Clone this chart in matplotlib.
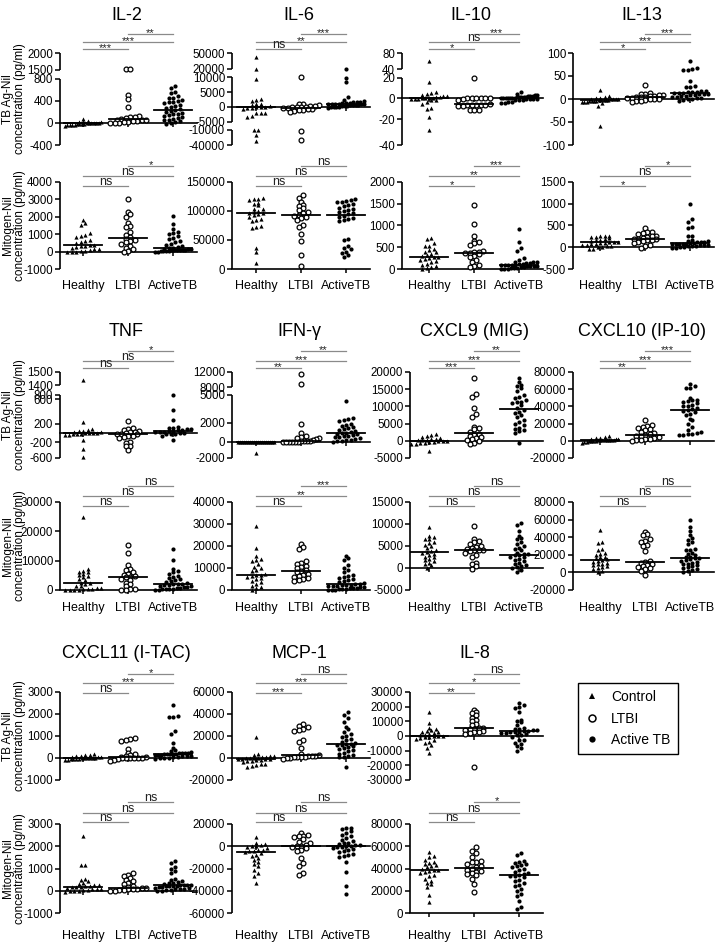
import numpy as np
import matplotlib
matplotlib.use("Agg")
from matplotlib import pyplot as plt
from matplotlib.lines import Line2D

plt.rcParams['font.family'] = ['Liberation Sans', 'DejaVu Sans']

groups = ["Healthy", "LTBI", "ActiveTB"]
legend_labels = ["Control", "LTBI", "Active TB"]

# ---------------- row 1 : TB Ag-Nil ----------------
il2_tb_h = [80, 40, 20, 15, 10, 5, 0, 0, -5, -10, -10, -15, -20, -20, -25, -30, -35, -40, -45, -50]
il2_tb_l = [1520, 1520, 500, 430, 280, 120, 110, 100, 90, 70, 60, 50, 50, 40, 30, 20, 10, 5, 0, -10]
il2_tb_a = [660, 640, 560, 540, 480, 450, 445, 415, 400, 385, 370, 360, 330, 310, 290, 270, 250,
            230, 215, 200, 185, 165, 155, 145, 125, 105, 95, 80, 60, 45, 30, 20, 0, -20]
il2_tb_ticks = [-400, 0, 400, 800, 1500, 2000]
il2_tb_breaks = [(-400, 0), (800, 0.72), (1500, 0.82), (2000, 1)]
il2_tb_segs = [(-400, 800), (1500, 2000)]
il2_tb_sig = ["***", "***", "**"]

il6_tb_h = [42000, 20000, 9400, 2700, 2300, 2000, 1000, 800, 600, 300, 100, 0, -100, -300, -500,
            -700, -2200, -2200, -2200, -3000, -3300, -10000, -10000, -20000, -33000]
il6_tb_l = [10500, 1000, 800, 500, 300, 200, 100, 0, -100, -200, -300, -400, -600, -800, -1000,
            -1200, -1500, -1700, -12000, -31000]
il6_tb_a = [20000, 9700, 8300, 3500, 2400, 2000, 1800, 1600, 1500, 1400, 1300, 1200, 1100, 1000,
            950, 900, 850, 800, 750, 700, 600, 500, 400, 300, 200, 100, 0, -100, -200, -300]
il6_tb_ticks = [-40000, -10000, -5000, 0, 5000, 10000, 20000, 50000]
il6_tb_breaks = [(-40000, 0), (-10000, 0.164), (-5000, 0.255), (10000, 0.735), (20000, 0.829), (50000, 1)]
il6_tb_segs = [(-40000, -10000), (-5000, 10000), (20000, 50000)]
il6_tb_sig = ["ns", "**", "***"]

il10_tb_h = [60, 16, 6, 5, 4, 3, 2, 2, 1, 1, 0, 0, 0, 0, -1, -1, -1, -2, -2, -3, -5, -9, -10, -18, -28]
il10_tb_l = [20, 0, 0, 0, 0, 0, 0, -1, -2, -5, -6, -6, -6, -6, -6, -7, -7, -11, -11, -11]
il10_tb_a = [6, 4, 3, 3, 2, 2, 2, 1, 1, 1, 1, 1, 0, 0, 0, 0, 0, 0, 0, -1, -1, -1, -1, -2, -2, -2,
             -3, -3, -4, -4]
il10_tb_ticks = [-40, -20, 0, 20, 40, 80]
il10_tb_breaks = [(-40, 0), (-20, 0.278), (0, 0.507), (20, 0.733), (40, 0.826), (80, 1)]
il10_tb_segs = [(-40, 20), (40, 80)]
il10_tb_sig = ["*", "ns", "***"]

il13_tb_h = [20, 6, 5, 3, 2, 1, 0, 0, -1, -1, -2, -2, -3, -3, -3, -4, -4, -5, -5, -6, -6, -7, -8, -15, -58]
il13_tb_l = [31, 12, 11, 10, 9, 8, 7, 6, 5, 4, 4, 3, 2, 1, 0, -1, -3, -5, -5, -6]
il13_tb_a = [83, 67, 65, 64, 62, 40, 28, 27, 26, 18, 17, 16, 15, 15, 14, 13, 12, 11, 10, 10, 9, 8,
             7, 6, 5, 4, 3, 2, 1, 0, -2, -4]
il13_tb_ticks = [-100, -50, 0, 50, 100]
il13_tb_sig = ["*", "***", "***"]

# ---------------- row 1 : Mitogen-Nil ----------------
il2_mit_h = [1800, 1650, 1500, 1050, 950, 900, 850, 650, 600, 550, 470, 400, 380, 350, 320, 250,
             200, 150, 130, 80, 50, 20, 0, -30, -50]
il2_mit_l = [3050, 2250, 2150, 2000, 1650, 1450, 1400, 1100, 950, 850, 700, 650, 600, 550, 450,
             300, 200, 150, 50, -20]
il2_mit_a = [2050, 1600, 1300, 1100, 1050, 1000, 900, 800, 700, 600, 550, 450, 400, 300, 250, 200,
             180, 160, 140, 130, 120, 110, 100, 90, 80, 70, 60, 50, 30, 10, -20, -50]
il2_mit_ticks = [-1000, 0, 1000, 2000, 3000, 4000]
il2_mit_sig = ["ns", "ns", "*"]

il6_mit_h = [122000, 121000, 120000, 119000, 113000, 112000, 110000, 104000, 103000, 100000, 98000,
             97000, 96000, 95000, 93000, 90000, 87000, 84000, 82000, 74000, 73000, 71000, 36000,
             29000, 11000]
il6_mit_l = [128000, 122000, 115000, 110000, 108000, 105000, 101000, 98000, 96000, 93000, 92000,
             90000, 88000, 85000, 75000, 73000, 60000, 48000, 24000, 6000]
il6_mit_a = [120000, 119000, 118000, 116000, 115000, 112000, 110000, 108000, 106000, 104000,
             102000, 100000, 98000, 96000, 94000, 92000, 90000, 88000, 86000, 84000, 82000, 52000,
             50000, 40000, 36000, 34000, 30000, 28000, 24000, 21000]
il6_mit_ticks = [0, 50000, 100000, 150000]
il6_mit_sig = ["ns", "ns", "ns"]

il10_mit_h = [720, 690, 600, 540, 520, 470, 430, 400, 380, 350, 320, 300, 280, 270, 250, 240, 200,
              180, 150, 110, 100, 60, 50, 20, 10]
il10_mit_l = [1480, 1030, 770, 650, 620, 600, 560, 420, 400, 380, 370, 370, 340, 310, 280, 200,
              170, 100, 70, 50]
il10_mit_a = [920, 610, 490, 420, 250, 200, 170, 160, 150, 140, 130, 120, 110, 100, 100, 95, 90,
              85, 80, 70, 60, 60, 50, 40, 30, 30, 20, 10, 5, 0]
il10_mit_ticks = [0, 500, 1000, 1500, 2000]
il10_mit_sig = ["*", "**", "***"]

il13_mit_h = [270, 260, 250, 240, 230, 210, 200, 170, 160, 140, 130, 120, 110, 100, 90, 80, 70,
              60, 50, 40, 30, 10, 0, -30, -40]
il13_mit_l = [440, 360, 340, 320, 300, 270, 250, 230, 210, 200, 190, 180, 170, 160, 140, 120, 100,
              60, 20, -20]
il13_mit_a = [1000, 640, 580, 460, 440, 270, 250, 170, 150, 140, 130, 120, 110, 100, 90, 85, 80,
              75, 70, 65, 60, 55, 50, 40, 30, 20, 10, 0, -10, -20]
il13_mit_ticks = [-500, 0, 500, 1000, 1500]
il13_mit_sig = ["*", "ns", "*"]

# ---------------- row 2 : TB Ag-Nil ----------------
tnf_tb_h = [1440, 230, 90, 60, 50, 40, 30, 20, 10, 5, 0, -5, -10, -20, -30, -40, -50, -150, -370, -580]
tnf_tb_l = [245, 110, 90, 60, 50, 30, 20, 0, -10, -20, -30, -60, -70, -90, -100, -200, -210,
            -285, -300, -395]
tnf_tb_a = [790, 420, 270, 140, 120, 100, 90, 80, 70, 60, 50, 40, 30, 25, 20, 10, 0, -10, -20,
            -30, -60, -150]
tnf_tb_ticks = [-600, -200, 200, 600, 800, 1400, 1500]
tnf_tb_breaks = [(-600, 0), (-200, 0.183), (200, 0.397), (600, 0.681), (800, 0.735), (1400, 0.844), (1500, 1)]
tnf_tb_segs = [(-600, 800), (1400, 1500)]
tnf_tb_sig = ["ns", "ns", "*"]

ifn_tb_h = [30, 20, 10, 5, 0, 0, 0, 0, 0, 0, 0, 0, 0, 0, 0, -10, -20, 0, 0, -1400]
ifn_tb_l = [11400, 8900, 1900, 950, 600, 450, 400, 350, 250, 150, 80, 60, 50, 40, 30, 20, 10, 0, 0, 0]
ifn_tb_a = [4300, 2550, 2400, 2300, 2200, 1800, 1700, 1650, 1500, 1450, 1300, 1250, 1100, 1000,
            950, 900, 850, 800, 700, 650, 600, 500, 450, 350, 300, 200, 150, 100, 50, 20]
ifn_tb_ticks = [-2000, 0, 2000, 5000, 8000, 12000]
ifn_tb_breaks = [(-2000, 0), (0, 0.188), (2000, 0.412), (5000, 0.733), (8000, 0.824), (12000, 1)]
ifn_tb_segs = [(-2000, 5000), (8000, 12000)]
ifn_tb_sig = ["**", "***", "**"]

cxcl9_tb_h = [2000, 1800, 1500, 1200, 800, 500, 400, 300, 200, 100, 0, -100, -200, -300, -400,
              -500, -600, -800, -1000, -3000]
cxcl9_tb_l = [18400, 13500, 12700, 9500, 7800, 6900, 4000, 3700, 3300, 2700, 2000, 1600, 1400,
              1100, 800, 600, 200, 0, -500, -900]
cxcl9_tb_a = [18300, 17000, 16200, 15800, 15400, 14500, 13200, 12800, 12400, 11800, 11400, 11200,
              10900, 10300, 9600, 9000, 8500, 8000, 7500, 6800, 6000, 5500, 5000, 4500, 3800,
              3500, 3000, 2800, 2200, -500]
cxcl9_tb_ticks = [-5000, 0, 5000, 10000, 15000, 20000]
cxcl9_tb_sig = ["***", "***", "**"]

cxcl10_tb_h = [5500, 4000, 3500, 3000, 2500, 2000, 1800, 1500, 1500, 1200, 1000, 900, 800, 600,
               400, 200, 0, -200, -500, -1000, -1500, -2000]
cxcl10_tb_l = [24000, 18500, 17000, 16000, 15000, 13500, 12000, 10000, 9000, 7500, 6500, 6000,
               5000, 4000, 3500, 2500, 2000, 1000, 500, 0]
cxcl10_tb_a = [66000, 64000, 61000, 61000, 50000, 48000, 47000, 46000, 45000, 44000, 42000, 41000,
               40000, 38000, 37000, 36000, 35000, 33000, 31000, 30000, 25000, 24000, 20000, 16000,
               12000, 10000, 9000, 8000, 7500, 7000, 6500]
cxcl10_tb_ticks = [-20000, 0, 20000, 40000, 60000, 80000]
cxcl10_tb_sig = ["**", "***", "***"]

# ---------------- row 2 : Mitogen-Nil ----------------
tnf_mit_h = [25000, 7000, 6500, 6300, 6000, 5500, 5000, 4800, 4500, 3800, 3500, 2500, 2300, 2000,
             1500, 1200, 800, 600, 400, 300, 200, 100, 50, 0, 0]
tnf_mit_l = [15500, 12500, 8500, 7000, 6800, 6000, 5500, 5000, 4800, 4600, 4500, 3800, 3500, 2500,
             2200, 1200, 500, 200, 100, 0]
tnf_mit_a = [14000, 10300, 7000, 6500, 6000, 5500, 4800, 4500, 4000, 3800, 3500, 3000, 2700, 2500,
             2200, 2000, 1900, 1800, 1600, 1400, 1200, 1000, 900, 800, 600, 500, 400, 300, 200,
             100, 50]
tnf_mit_ticks = [0, 10000, 20000, 30000]
tnf_mit_sig = ["ns", "ns", "ns"]

ifn_mit_h = [29000, 19000, 15500, 14000, 13500, 13000, 12000, 10500, 10000, 9000, 8500, 7500, 7000,
             6800, 6500, 6000, 5500, 5000, 4000, 3500, 2800, 2000, 1500, 800, 0]
ifn_mit_l = [21000, 19500, 18500, 13000, 12500, 12000, 11000, 10500, 10000, 9000, 8500, 8000, 7500,
             7000, 6500, 6000, 5500, 5000, 4500, 4300]
ifn_mit_a = [15500, 14500, 13500, 11500, 10000, 9000, 8000, 7000, 6500, 6000, 5500, 5000, 4500,
             4000, 3500, 3000, 2800, 2600, 2500, 2400, 2300, 2000, 1800, 1600, 1500, 1200, 1000,
             900, 800, 600, 400, 300, 200, 100, 0]
ifn_mit_ticks = [0, 10000, 20000, 30000, 40000]
ifn_mit_sig = ["ns", "**", "***"]

cxcl9_mit_h = [9300, 7300, 7000, 6700, 6500, 6000, 5700, 5300, 5000, 4500, 4000, 3800, 3600, 3400,
               3200, 3000, 2600, 2400, 2000, 1800, 1500, 1200, 1000, 700, 0]
cxcl9_mit_l = [9600, 6700, 6200, 5800, 5500, 5000, 4800, 4500, 4300, 4200, 4100, 4000, 3800, 3500,
               3000, 2500, 1200, 800, 400, -200]
cxcl9_mit_a = [10200, 9800, 8300, 7300, 6800, 6500, 5900, 5500, 5000, 4600, 4300, 4000, 3500, 3200,
               3100, 3000, 2900, 2600, 2400, 2000, 1800, 1500, 1200, 900, 700, 400, 200, 0, -400, -800]
cxcl9_mit_ticks = [-5000, 0, 5000, 10000, 15000]
cxcl9_mit_sig = ["ns", "ns", "ns"]

cxcl10_mit_h = [48000, 35000, 33000, 27000, 25000, 22000, 21000, 20000, 18000, 17000, 16000, 15000,
                14500, 13500, 12000, 11000, 10000, 9000, 8000, 7000, 6500, 5000, 4000, 2000, 0]
cxcl10_mit_l = [46000, 44000, 42000, 38000, 36000, 35000, 31000, 30000, 24000, 13000, 11500, 11000,
                9000, 8000, 7000, 6000, 5000, 4000, 2000, -3000]
cxcl10_mit_a = [60000, 52000, 47000, 42000, 39000, 37000, 34000, 32000, 27000, 26000, 25000, 22000,
                21000, 20000, 18000, 17000, 16500, 16000, 15000, 14000, 13000, 12000, 11000, 10000,
                9000, 8000, 7000, 6000, 5000, 4000, 3000, 2000, 500]
cxcl10_mit_ticks = [-20000, 0, 20000, 40000, 60000, 80000]
cxcl10_mit_sig = ["ns", "ns", "ns"]

# ---------------- row 3 : TB Ag-Nil ----------------
cxcl11_tb_h = [180, 150, 120, 100, 80, 60, 40, 30, 20, 10, 0, 0, -10, -20, -30, -40, -50, -60, -80, -100]
cxcl11_tb_l = [920, 850, 800, 780, 420, 250, 200, 150, 100, 60, 30, 20, 10, 0, 0, -10, -20, -50,
               -80, -120]
cxcl11_tb_a = [2400, 1900, 1880, 1850, 1250, 1100, 680, 460, 350, 300, 260, 250, 230, 220, 210,
               200, 190, 180, 170, 160, 150, 140, 120, 100, 90, 80, 60, 40, 20, 0, -20, -50]
cxcl11_tb_ticks = [-1000, 0, 1000, 2000, 3000]
cxcl11_tb_sig = ["ns", "***", "*"]

mcp1_tb_h = [19000, 3500, 2500, 2000, 1500, 1000, 500, 300, 200, 0, -300, -600, -800, -1000, -1200,
             -1500, -2000, -2500, -3000, -4000, -5000, -5500, -6000, -7000, -8000]
mcp1_tb_l = [31000, 29000, 28000, 26000, 25500, 25000, 16000, 15000, 9500, 4000, 2500, 2000, 1800,
             1500, 1200, 1000, 800, 500, 200, 0, -500]
mcp1_tb_a = [42000, 39000, 36000, 33000, 28000, 26000, 24000, 22000, 20000, 19000, 17000, 16000,
             15000, 14000, 13000, 12500, 12000, 11500, 11000, 10000, 9000, 8000, 7000, 6000, 5000,
             4000, 3000, 2000, 1000, 500, -8500]
mcp1_tb_ticks = [-20000, 0, 20000, 40000, 60000]
mcp1_tb_sig = ["***", "***", "ns"]

il8_tb_h = [16700, 8700, 5500, 4500, 4000, 3500, 3000, 2500, 2000, 1500, 1000, 500, 200, 0, -200,
            -500, -1000, -1500, -2000, -3000, -4000, -5000, -6000, -8000, -11500]
il8_tb_l = [18000, 16500, 15500, 14000, 12500, 11000, 10000, 8500, 7500, 5500, 5300, 5000, 4500,
            4000, 3500, 3000, 2500, 2000, 1500, -21000]
il8_tb_a = [22500, 21000, 20000, 19000, 16500, 11000, 10000, 9500, 7500, 5500, 5000, 4500, 4000,
            3800, 3500, 3300, 3000, 2800, 2500, 2200, 2000, 1500, 1000, 500, -500, -2500, -3000,
            -4500, -5500, -7000, -8000, -10000]
il8_tb_ticks = [-30000, -20000, -10000, 0, 10000, 20000, 30000]
il8_tb_sig = ["**", "*", "ns"]

# ---------------- row 3 : Mitogen-Nil ----------------
cxcl11_mit_h = [2450, 1170, 1150, 550, 480, 420, 350, 300, 260, 240, 220, 200, 180, 160, 150, 120,
                100, 80, 60, 40, 30, 10, 0, -30, -50]
cxcl11_mit_l = [780, 720, 650, 560, 480, 420, 370, 300, 200, 150, 140, 130, 120, 100, 80, 60, 40,
                30, 10, -20]
cxcl11_mit_a = [1350, 1250, 1050, 1000, 900, 820, 520, 480, 450, 400, 360, 330, 300, 280, 260, 250,
                240, 230, 220, 210, 200, 180, 160, 140, 120, 100, 80, 60, 40, 20, 0, -20]
cxcl11_mit_ticks = [-1000, 0, 1000, 2000, 3000]
cxcl11_mit_sig = ["ns", "ns", "ns"]

mcp1_mit_h = [8000, 3000, 2000, 1500, 500, 0, -1000, -2000, -3000, -3500, -4000, -4500, -5000,
              -6000, -7500, -9000, -10500, -12500, -14000, -16000, -18000, -21000, -24000, -27000, -33000]
mcp1_mit_l = [12000, 10500, 9500, 9000, 8500, 6500, 3500, 2500, 1500, 500, 0, -500, -1500, -3000,
              -4500, -10500, -15000, -18000, -24000, -26000]
mcp1_mit_a = [16500, 16000, 15500, 13500, 12000, 10500, 9000, 7500, 6000, 4500, 3000, 2500, 2000,
              1500, 1000, 500, -200, -500, -1000, -1500, -2500, -3000, -4500, -5500, -7000, -8000,
              -9000, -10000, -14000, -23500, -36000, -43000]
mcp1_mit_ticks = [-60000, -40000, -20000, 0, 20000]
mcp1_mit_sig = ["ns", "ns", "ns"]

il8_mit_h = [54500, 51000, 50000, 48000, 46000, 45000, 44000, 43000, 42000, 41000, 40000, 39000,
             38500, 38000, 37000, 36000, 34000, 33000, 31000, 29000, 27000, 26000, 23000, 16000, 10000]
il8_mit_l = [59000, 56000, 53500, 50500, 47000, 46000, 45500, 44000, 42000, 41000, 40000, 39000,
             38000, 37000, 36000, 35000, 34000, 31000, 26000, 19000]
il8_mit_a = [53500, 52000, 47000, 46000, 45000, 44000, 43500, 42000, 41000, 40000, 38500, 37000,
             36000, 35000, 34000, 33500, 33000, 32000, 30000, 29000, 27000, 25000, 24000, 22000,
             20000, 17000, 15000, 11000, 5000, 4000]
il8_mit_ticks = [0, 20000, 40000, 60000, 80000]
il8_mit_sig = ["ns", "ns", "*"]

# title, row, col, kind, healthy, ltbi, active, ticks, breaks, spine segments, significance
panels = [
    ("IL-2", 0, 0, "tb", il2_tb_h, il2_tb_l, il2_tb_a, il2_tb_ticks, il2_tb_breaks, il2_tb_segs, il2_tb_sig),
    ("IL-6", 0, 1, "tb", il6_tb_h, il6_tb_l, il6_tb_a, il6_tb_ticks, il6_tb_breaks, il6_tb_segs, il6_tb_sig),
    ("IL-10", 0, 2, "tb", il10_tb_h, il10_tb_l, il10_tb_a, il10_tb_ticks, il10_tb_breaks, il10_tb_segs, il10_tb_sig),
    ("IL-13", 0, 3, "tb", il13_tb_h, il13_tb_l, il13_tb_a, il13_tb_ticks, None, None, il13_tb_sig),
    (None, 0, 0, "mit", il2_mit_h, il2_mit_l, il2_mit_a, il2_mit_ticks, None, None, il2_mit_sig),
    (None, 0, 1, "mit", il6_mit_h, il6_mit_l, il6_mit_a, il6_mit_ticks, None, None, il6_mit_sig),
    (None, 0, 2, "mit", il10_mit_h, il10_mit_l, il10_mit_a, il10_mit_ticks, None, None, il10_mit_sig),
    (None, 0, 3, "mit", il13_mit_h, il13_mit_l, il13_mit_a, il13_mit_ticks, None, None, il13_mit_sig),
    ("TNF", 1, 0, "tb", tnf_tb_h, tnf_tb_l, tnf_tb_a, tnf_tb_ticks, tnf_tb_breaks, tnf_tb_segs, tnf_tb_sig),
    ("IFN-γ", 1, 1, "tb", ifn_tb_h, ifn_tb_l, ifn_tb_a, ifn_tb_ticks, ifn_tb_breaks, ifn_tb_segs, ifn_tb_sig),
    ("CXCL9 (MIG)", 1, 2, "tb", cxcl9_tb_h, cxcl9_tb_l, cxcl9_tb_a, cxcl9_tb_ticks, None, None, cxcl9_tb_sig),
    ("CXCL10 (IP-10)", 1, 3, "tb", cxcl10_tb_h, cxcl10_tb_l, cxcl10_tb_a, cxcl10_tb_ticks, None, None, cxcl10_tb_sig),
    (None, 1, 0, "mit", tnf_mit_h, tnf_mit_l, tnf_mit_a, tnf_mit_ticks, None, None, tnf_mit_sig),
    (None, 1, 1, "mit", ifn_mit_h, ifn_mit_l, ifn_mit_a, ifn_mit_ticks, None, None, ifn_mit_sig),
    (None, 1, 2, "mit", cxcl9_mit_h, cxcl9_mit_l, cxcl9_mit_a, cxcl9_mit_ticks, None, None, cxcl9_mit_sig),
    (None, 1, 3, "mit", cxcl10_mit_h, cxcl10_mit_l, cxcl10_mit_a, cxcl10_mit_ticks, None, None, cxcl10_mit_sig),
    ("CXCL11 (I-TAC)", 2, 0, "tb", cxcl11_tb_h, cxcl11_tb_l, cxcl11_tb_a, cxcl11_tb_ticks, None, None, cxcl11_tb_sig),
    ("MCP-1", 2, 1, "tb", mcp1_tb_h, mcp1_tb_l, mcp1_tb_a, mcp1_tb_ticks, None, None, mcp1_tb_sig),
    ("IL-8", 2, 2, "tb", il8_tb_h, il8_tb_l, il8_tb_a, il8_tb_ticks, None, None, il8_tb_sig),
    (None, 2, 0, "mit", cxcl11_mit_h, cxcl11_mit_l, cxcl11_mit_a, cxcl11_mit_ticks, None, None, cxcl11_mit_sig),
    (None, 2, 1, "mit", mcp1_mit_h, mcp1_mit_l, mcp1_mit_a, mcp1_mit_ticks, None, None, mcp1_mit_sig),
    (None, 2, 2, "mit", il8_mit_h, il8_mit_l, il8_mit_a, il8_mit_ticks, None, None, il8_mit_sig),
]

# layout in pixels of the 720x944 figure
W, H = 720, 944
row_px = {(0, "tb"): (53, 145), (0, "mit"): (182, 269),
          (1, "tb"): (372, 458), (1, "mit"): (502, 590),
          (2, "tb"): (692, 780), (2, "mit"): (824, 913)}
sig_px = {(0, "tb"): (4, 11, 19), (0, "mit"): (-4, 6, 16),
          (1, "tb"): (4, 11, 21), (1, "mit"): (-4, 6, 16),
          (2, "tb"): (-1, 9, 18), (2, "mit"): (2, 11, 22)}
title_px = [15, 332, 654]
xlab_px = [286, 608, 936]
centers = [128, 301, 474, 645]
spine_left = [60, 232, 402, 573]
unit = 45.0

styles = [dict(marker="^", s=9, c="black", linewidths=0),
          dict(marker="o", s=12, facecolors="white", edgecolors="black", linewidths=0.9),
          dict(marker="o", s=9, c="black", linewidths=0)]


def swarm(ypix, dx=0.1, dy=3.5, maxw=0.4):
    # spread points that sit at nearly the same height, like a prism dot plot
    order = np.argsort(ypix)
    offs = np.zeros(len(ypix))
    rows = []
    cur = [order[0]]
    for i in order[1:]:
        if ypix[i] - ypix[cur[0]] < dy:
            cur.append(i)
        else:
            rows.append(cur)
            cur = [i]
    rows.append(cur)
    for r in rows:
        k = len(r)
        w = min(dx, 2 * maxw / (k - 1)) if k > 1 else 0
        for j, idx in enumerate(r):
            offs[idx] = (j - (k - 1) / 2) * w
    return offs


fig = plt.figure(figsize=(7.2, 9.44), dpi=100)

for title, row, col, kind, h, l, a, ticks, breaks, segs, sig in panels:
    top, bot = row_px[(row, kind)]
    hpx = bot - top
    c = centers[col]
    left = 410 if (col == 2 and row > 0) else spine_left[col]
    right = c + 69
    ax = fig.add_axes([left / W, 1 - bot / H, (right - left) / W, hpx / H])
    ax.patch.set_visible(False)
    ax.set_xlim((left - c) / unit, (right - c) / unit)

    if breaks is None:
        breaks = [(ticks[0], 0), (ticks[-1], 1)]
        segs = [(ticks[0], ticks[-1])]
    bv = [b[0] for b in breaks]
    bf = [b[1] for b in breaks]
    fwd = lambda v, bv=bv, bf=bf: np.interp(v, bv, bf)
    inv = lambda f, bv=bv, bf=bf: np.interp(f, bf, bv)
    ax.set_yscale("function", functions=(fwd, inv))
    ax.set_ylim(bv[0], bv[-1])

    # dots and median lines
    for i, (vals, st) in enumerate(zip([h, l, a], styles)):
        vals = np.asarray(vals, float)
        xo = swarm(fwd(vals) * hpx)
        ax.scatter(i - 1 + xo, vals, zorder=3, clip_on=False, **st)
        med = np.median(vals)
        ax.plot([i - 1.42, i - 0.58], [med, med], color="black", lw=1.3, zorder=4)

    # axes: y spine with breaks, x line through zero
    for s in ["top", "right", "left"]:
        ax.spines[s].set_visible(False)
    ax.spines["bottom"].set_position(("data", 0))
    ax.spines["bottom"].set_linewidth(1.2)
    for s0, s1 in segs:
        ax.plot([0, 0], [s0, s1], transform=ax.get_yaxis_transform(), color="black",
                lw=1.2, clip_on=False, solid_capstyle="butt")
    ax.set_yticks(ticks)
    ax.set_yticklabels([str(t) for t in ticks])
    ax.minorticks_off()
    ax.tick_params(axis="y", length=3.5, width=1.1, labelsize=8.3, pad=1.5)
    ax.set_xticks([-1, 0, 1])
    ax.set_xticklabels([])
    ax.tick_params(axis="x", length=3, width=1.1)

    if kind == "mit":
        yl = -(xlab_px[row] - bot) / hpx
        for i, g in enumerate(groups):
            ax.text(i - 1, yl, g, transform=ax.get_xaxis_transform(), ha="center",
                    va="center", fontsize=9)

    # significance bars
    for (x0, x1), lab, off in zip([(-1, 0), (-1, 1), (0, 1)], sig, sig_px[(row, kind)]):
        yf = 1 + off / hpx
        ax.plot([x0, x1], [yf, yf], transform=ax.get_xaxis_transform(), color="#8a8a8a",
                lw=0.9, clip_on=False)
        if lab == "ns":
            ax.text((x0 + x1) / 2, yf + 1.0 / hpx, lab, transform=ax.get_xaxis_transform(),
                    ha="center", va="baseline", fontsize=9, color="#222222")
        else:
            ax.text((x0 + x1) / 2, yf + 1.0 / hpx, lab, transform=ax.get_xaxis_transform(),
                    ha="center", va="center", fontsize=8, color="#222222")

    if title is not None:
        fig.text(((left + right) / 2 - 2) / W, 1 - title_px[row] / H, title,
                 ha="center", va="center", fontsize=13)

    if col == 0:
        lab = "TB Ag-Nil\nconcentration (pg/ml)" if kind == "tb" else "Mitogen-Nil\nconcentration (pg/ml)"
        fig.text(14 / W, 1 - (top + bot) / 2 / H, lab, rotation=90, ha="center",
                 va="center", fontsize=8.5, linespacing=1.0, multialignment="center")

# legend box
handles = [Line2D([], [], ls="none", marker="^", ms=4.5, color="black", mew=0),
           Line2D([], [], ls="none", marker="o", ms=5, mfc="white", mec="black", mew=1.1),
           Line2D([], [], ls="none", marker="o", ms=4.5, color="black", mew=0)]
leg = fig.legend(handles, legend_labels, loc="upper left", bbox_to_anchor=(578 / W, 1 - 683 / H),
                 frameon=True, fancybox=False, edgecolor="black", framealpha=1, fontsize=10,
                 handlelength=1.0, handletextpad=0.9, labelspacing=0.55, borderpad=0.5,
                 borderaxespad=0)
leg.get_frame().set_linewidth(1.0)

plt.savefig("out.png", dpi=100)
